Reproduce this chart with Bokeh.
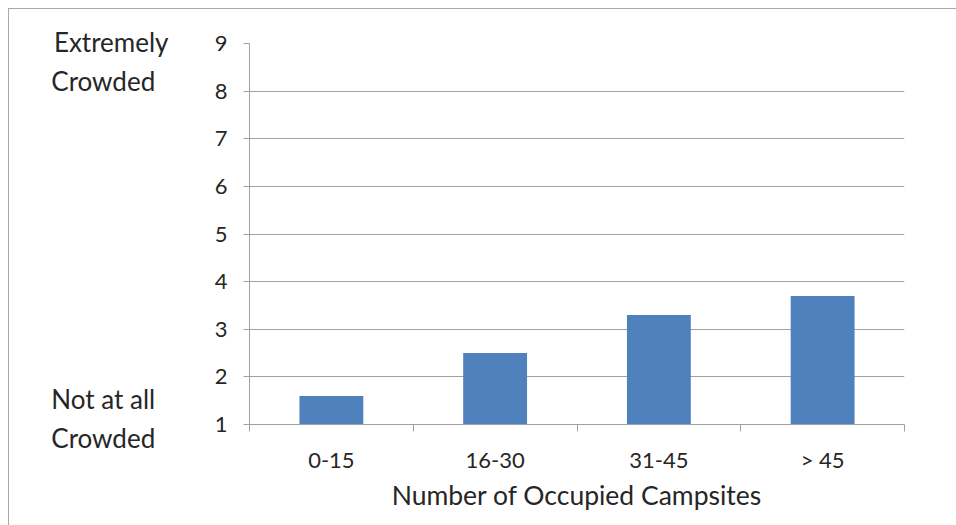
from bokeh.plotting import figure
from bokeh.models import FixedTicker, LinearAxis, ColumnDataSource, Range1d
from bokeh.embed import file_html
from bokeh.resources import INLINE

categories = ["0-15", "16-30", "31-45", "> 45"]
values = [1.6, 2.5, 3.3, 3.7]
y_ticks = [1, 2, 3, 4, 5, 6, 7, 8, 9]
top_label = ["Extremely", "Crowded"]
bottom_label = ["Not at all", "Crowded"]
side_label_pos = [8.62, 1.13]
x_title = "Number of Occupied Campsites"

FONT = "Lato"
GRAY = "#a0a0a0"
TEXT = "#262626"
NB = "\u00a0"

positions = [i + 0.5 for i in range(len(categories))]
src = ColumnDataSource(dict(x=positions, top=values, cat=categories))

p = figure(width=948, height=517, output_backend="svg", toolbar_location=None,
           x_range=Range1d(0, len(categories)), y_range=Range1d(1, 9),
           min_border_left=240, min_border_right=53, min_border_top=34,
           min_border_bottom=102)
p.margin = (8, 0, 0, 8)
p.styles = {"border-top": "1px solid #a8a8a8", "border-left": "1px solid #a8a8a8"}
p.outline_line_color = None

p.vbar(x="x", top="top", bottom=1, width=0.39, source=src,
       fill_color="#4F81BD", line_color=None)

# y axis
p.yaxis.ticker = FixedTicker(ticks=y_ticks)
p.yaxis.axis_line_color = GRAY
p.yaxis.major_tick_line_color = GRAY
p.yaxis.major_tick_out = 6
p.yaxis.major_tick_in = 0
p.yaxis.minor_tick_line_color = None
p.yaxis.major_label_text_font = FONT
p.yaxis.major_label_text_font_size = "22px"
p.yaxis.major_label_text_color = TEXT
p.yaxis.major_label_standoff = 16

# outer axis carrying the verbal scale anchors (lines padded so they start flush left)
top_text = top_label[0] + "\n" + top_label[1] + NB * 2
bottom_text = bottom_label[0] + NB * 2 + "\n" + bottom_label[1] + NB * 2
side = LinearAxis(ticker=FixedTicker(ticks=side_label_pos))
side.major_label_overrides = {side_label_pos[0]: top_text,
                              side_label_pos[1]: bottom_text}
side.axis_line_color = None
side.major_tick_line_color = None
side.minor_tick_line_color = None
side.major_tick_out = 0
side.major_tick_in = 0
side.major_label_standoff = 43
side.major_label_text_font = FONT
side.major_label_text_font_size = "26px"
side.major_label_text_color = TEXT
side.major_label_text_line_height = 1.2
p.add_layout(side, "left")

# x axis: labels at centers, tick marks at category boundaries
p.xaxis.ticker = FixedTicker(ticks=positions,
                             minor_ticks=list(range(len(categories) + 1)))
p.xaxis.major_label_overrides = {pos: c for pos, c in zip(positions, categories)}
p.xaxis.axis_line_color = GRAY
p.xaxis.major_tick_line_color = None
p.xaxis.minor_tick_line_color = GRAY
p.xaxis.minor_tick_out = 7
p.xaxis.minor_tick_in = 0
p.xaxis.major_label_text_font = FONT
p.xaxis.major_label_text_font_size = "22px"
p.xaxis.major_label_text_color = TEXT
p.xaxis.major_label_standoff = 14
p.xaxis.axis_label = x_title
p.xaxis.axis_label_text_font = FONT
p.xaxis.axis_label_text_font_size = "26.5px"
p.xaxis.axis_label_text_font_style = "normal"
p.xaxis.axis_label_text_color = TEXT
p.xaxis.axis_label_standoff = 3

p.xgrid.grid_line_color = None
p.ygrid.grid_line_color = GRAY
p.ygrid.grid_line_width = 1

open("out.html", "w").write(file_html(p, INLINE))
